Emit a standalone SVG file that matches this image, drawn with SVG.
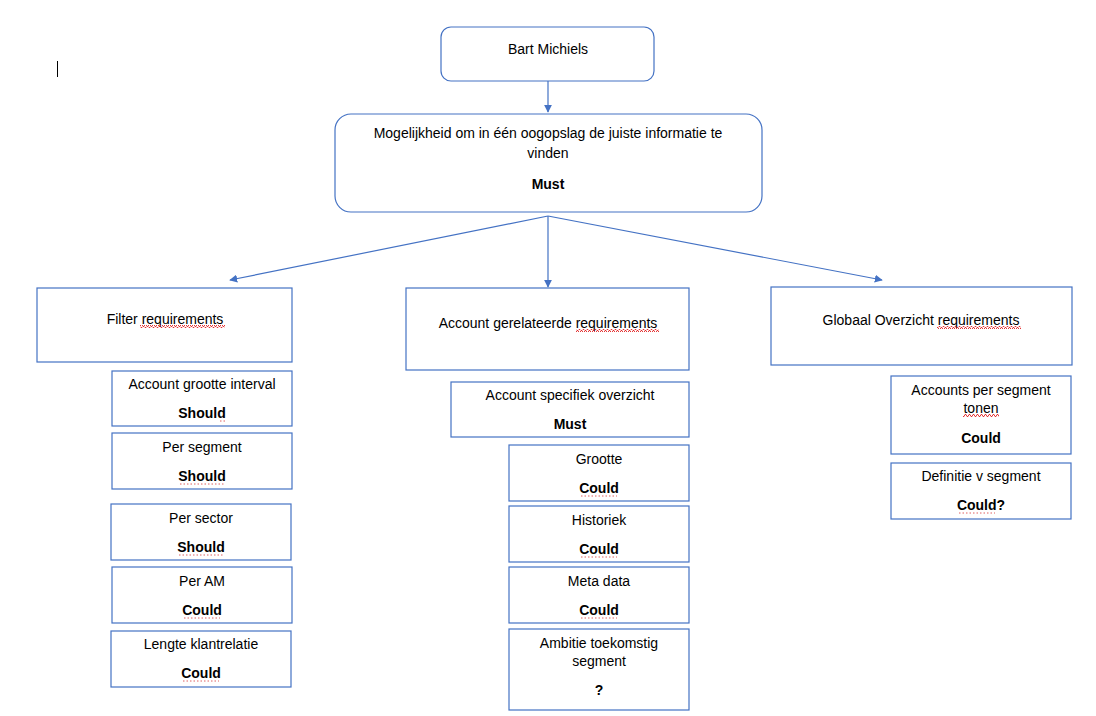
<svg xmlns="http://www.w3.org/2000/svg" width="1096" height="716" viewBox="0 0 1096 716">
  <defs>
    <style>
      .box { fill: #ffffff; stroke: #4472C4; stroke-width: 1.2; }
      .t { font-family: "Liberation Sans", Arial, sans-serif; font-size: 14px; fill: #000000; text-anchor: middle; }
      .b { font-weight: bold; }
      .edge { fill: none; stroke: #4472C4; stroke-width: 1.2; }
      .spell { fill: url(#squiggle); }
      .gram { fill: none; stroke: #e06060; stroke-width: 1; stroke-dasharray: 1.5 2; }
    </style>
    <marker id="arrow" viewBox="0 0 10 10" refX="9" refY="5" markerWidth="8" markerHeight="8" markerUnits="userSpaceOnUse" orient="auto">
      <path d="M0,0 L10,5 L0,10 Z" fill="#4472C4"/>
    </marker>
    <pattern id="squiggle" width="4" height="3" patternUnits="userSpaceOnUse">
      <path d="M0,2.5 L1,0.5 L2,0.5 L3,2.5 L4,2.5" fill="none" stroke="#e02020" stroke-width="0.9"/>
    </pattern>
  </defs>

  <rect width="1096" height="716" fill="#ffffff"/>

  <!-- text cursor -->
  <line x1="57.5" y1="61" x2="57.5" y2="77" stroke="#000000" stroke-width="1"/>

  <!-- connectors -->
  <g id="connectors">
    <line class="edge" x1="548" y1="81" x2="548" y2="112" marker-end="url(#arrow)"/>
    <line class="edge" x1="548" y1="216" x2="230" y2="280" marker-end="url(#arrow)"/>
    <line class="edge" x1="548" y1="216" x2="548" y2="287" marker-end="url(#arrow)"/>
    <line class="edge" x1="548" y1="216" x2="882" y2="280" marker-end="url(#arrow)"/>
  </g>

  <g id="bart-michiels">
    <rect class="box" x="441" y="27" width="213" height="54" rx="10"/>
    <text class="t" x="548" y="54">Bart Michiels</text>
  </g>

  <g id="goal">
    <rect class="box" x="335" y="114" width="427" height="98" rx="16"/>
    <text class="t" x="548" y="138">Mogelijkheid om in één oogopslag de juiste informatie te</text>
    <text class="t" x="548" y="158">vinden</text>
    <text class="t b" x="548" y="189">Must</text>
  </g>

  <!-- filter column -->
  <g id="filter-requirements">
    <rect class="box" x="37" y="288" width="255" height="74"/>
    <text class="t" x="165" y="324">Filter requirements</text>
    <rect class="spell" x="140" y="325" width="85" height="3"/>
  </g>
  <g id="account-grootte-interval">
    <rect class="box" x="112" y="371" width="180" height="55"/>
    <text class="t" x="202" y="389">Account grootte interval</text>
    <text class="t b" x="202" y="418">Should</text>
    <line class="gram" x1="220" y1="421" x2="226" y2="421"/>
  </g>
  <g id="per-segment">
    <rect class="box" x="112" y="433" width="180" height="56"/>
    <text class="t" x="202" y="452">Per segment</text>
    <text class="t b" x="202" y="481">Should</text>
    <line class="gram" x1="180" y1="484" x2="224" y2="484"/>
  </g>
  <g id="per-sector">
    <rect class="box" x="111" y="504" width="180" height="56"/>
    <text class="t" x="201" y="523">Per sector</text>
    <text class="t b" x="201" y="552">Should</text>
    <line class="gram" x1="179" y1="555" x2="223" y2="555"/>
  </g>
  <g id="per-am">
    <rect class="box" x="112" y="567" width="180" height="56"/>
    <text class="t" x="202" y="586">Per AM</text>
    <text class="t b" x="202" y="615">Could</text>
    <line class="gram" x1="184" y1="618" x2="220" y2="618"/>
  </g>
  <g id="lengte-klantrelatie">
    <rect class="box" x="111" y="631" width="180" height="56"/>
    <text class="t" x="201" y="649">Lengte klantrelatie</text>
    <text class="t b" x="201" y="678">Could</text>
    <line class="gram" x1="183" y1="681" x2="219" y2="681"/>
  </g>

  <!-- account column -->
  <g id="account-gerelateerde-requirements">
    <rect class="box" x="406" y="288" width="283" height="82"/>
    <text class="t" x="548" y="328">Account gerelateerde requirements</text>
    <rect class="spell" x="576" y="329" width="83" height="3"/>
  </g>
  <g id="account-specifiek-overzicht">
    <rect class="box" x="451" y="382" width="238" height="55"/>
    <text class="t" x="570" y="400">Account specifiek overzicht</text>
    <text class="t b" x="570" y="429">Must</text>
  </g>
  <g id="grootte">
    <rect class="box" x="509" y="445" width="180" height="56"/>
    <text class="t" x="599" y="464">Grootte</text>
    <text class="t b" x="599" y="493">Could</text>
    <line class="gram" x1="581" y1="496" x2="617" y2="496"/>
  </g>
  <g id="historiek">
    <rect class="box" x="509" y="506" width="180" height="56"/>
    <text class="t" x="599" y="525">Historiek</text>
    <text class="t b" x="599" y="554">Could</text>
    <line class="gram" x1="581" y1="557" x2="617" y2="557"/>
  </g>
  <g id="meta-data">
    <rect class="box" x="509" y="567" width="180" height="56"/>
    <text class="t" x="599" y="586">Meta data</text>
    <text class="t b" x="599" y="615">Could</text>
    <line class="gram" x1="581" y1="618" x2="617" y2="618"/>
  </g>
  <g id="ambitie-toekomstig-segment">
    <rect class="box" x="509" y="629" width="180" height="81"/>
    <text class="t" x="599" y="648">Ambitie toekomstig</text>
    <text class="t" x="599" y="666">segment</text>
    <text class="t b" x="599" y="695">?</text>
  </g>

  <!-- global overview column -->
  <g id="globaal-overzicht-requirements">
    <rect class="box" x="771" y="287" width="301" height="78"/>
    <text class="t" x="921" y="325">Globaal Overzicht requirements</text>
    <rect class="spell" x="937" y="326" width="84" height="3"/>
  </g>
  <g id="accounts-per-segment-tonen">
    <rect class="box" x="891" y="376" width="180" height="78"/>
    <text class="t" x="981" y="395">Accounts per segment</text>
    <text class="t" x="981" y="413">tonen</text>
    <rect class="spell" x="963" y="414" width="36" height="3"/>
    <text class="t b" x="981" y="443">Could</text>
  </g>
  <g id="definitie-v-segment">
    <rect class="box" x="891" y="463" width="180" height="56"/>
    <text class="t" x="981" y="481">Definitie v segment</text>
    <text class="t b" x="981" y="510">Could?</text>
    <line class="gram" x1="959" y1="513" x2="995" y2="513"/>
  </g>
</svg>
